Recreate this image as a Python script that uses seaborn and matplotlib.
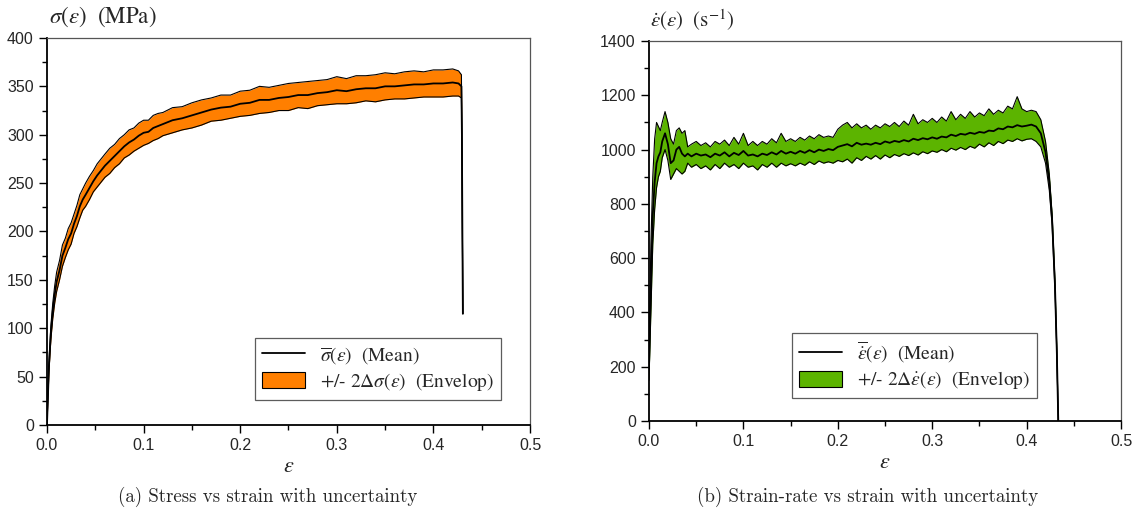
import matplotlib
matplotlib.use("Agg")
import matplotlib.pyplot as plt
import seaborn as sns
import pandas as pd
from matplotlib.lines import Line2D
from matplotlib.patches import Patch
from matplotlib.ticker import MultipleLocator

# -------------------------------------------------
# data
# -------------------------------------------------

# (a) stress vs strain
sig_eps = [0.000, 0.002, 0.004, 0.006, 0.008, 0.010, 0.013, 0.016, 0.019, 0.022,
           0.025, 0.028, 0.031, 0.034, 0.037, 0.040, 0.044, 0.048, 0.052, 0.056,
           0.060, 0.065, 0.070, 0.075, 0.080, 0.085, 0.090, 0.095, 0.100, 0.105,
           0.110, 0.115, 0.120, 0.130, 0.140, 0.150, 0.160, 0.170, 0.180, 0.190,
           0.200, 0.210, 0.220, 0.230, 0.240, 0.250, 0.260, 0.270, 0.280, 0.290,
           0.300, 0.310, 0.320, 0.330, 0.340, 0.350, 0.360, 0.370, 0.380, 0.390,
           0.400, 0.410, 0.420, 0.426, 0.429, 0.4295, 0.4300, 0.4305]
sig_mean = [0, 60, 95, 118, 135, 148, 160, 175, 183, 192,
            198, 208, 216, 226, 233, 238, 245, 252, 258, 263,
            268, 273, 278, 283, 288, 292, 295, 299, 302, 303,
            307, 309, 311, 315, 317, 320, 323, 326, 328, 329,
            332, 333, 336, 336, 338, 339, 341, 341, 343, 344,
            346, 345, 347, 348, 348, 350, 350, 351, 352, 352,
            353, 353, 354, 353, 350, 300, 200, 115]
sig_half = [0, 5, 7, 8, 9, 10, 10, 11, 10, 11,
            11, 10, 11, 12, 11, 12, 12, 11, 12, 12,
            12, 13, 12, 13, 12, 13, 12, 13, 13, 12,
            13, 13, 12, 13, 12, 13, 13, 12, 13, 12,
            13, 13, 14, 13, 13, 14, 13, 14, 13, 13,
            14, 13, 14, 13, 14, 14, 13, 14, 14, 13,
            14, 14, 14, 13, 12, 3, 1, 0]

# (b) strain rate vs strain
rate_eps = [0.000, 0.002, 0.004, 0.006, 0.008, 0.010, 0.012, 0.014, 0.017, 0.020,
            0.023, 0.026, 0.029, 0.032, 0.035, 0.038, 0.041, 0.045, 0.050, 0.055,
            0.060, 0.065, 0.070, 0.075, 0.080, 0.085, 0.090, 0.095, 0.100, 0.105,
            0.110, 0.115, 0.120, 0.125, 0.130, 0.135, 0.140, 0.145, 0.150, 0.155,
            0.160, 0.165, 0.170, 0.175, 0.180, 0.185, 0.190, 0.195, 0.200, 0.205,
            0.210, 0.215, 0.220, 0.225, 0.230, 0.235, 0.240, 0.245, 0.250, 0.255,
            0.260, 0.265, 0.270, 0.275, 0.280, 0.285, 0.290, 0.295, 0.300, 0.305,
            0.310, 0.315, 0.320, 0.325, 0.330, 0.335, 0.340, 0.345, 0.350, 0.355,
            0.360, 0.365, 0.370, 0.375, 0.380, 0.385, 0.390, 0.395, 0.400, 0.405,
            0.410, 0.415, 0.420, 0.424, 0.427, 0.430, 0.432, 0.4335]
rate_mean = [200, 500, 760, 880, 950, 975, 990, 1030, 1060, 1020,
             950, 960, 1000, 1010, 985, 975, 985, 975, 985, 978,
             982, 972, 985, 978, 990, 975, 988, 980, 995, 978,
             982, 975, 985, 980, 990, 982, 995, 985, 992, 985,
             995, 988, 998, 990, 1000, 995, 1002, 998, 1010, 1015,
             1020, 1012, 1025, 1018, 1022, 1018, 1025, 1020, 1030, 1025,
             1032, 1028, 1035, 1030, 1040, 1035, 1042, 1038, 1045, 1040,
             1048, 1045, 1055, 1050, 1058, 1055, 1062, 1058, 1065, 1062,
             1070, 1068, 1078, 1075, 1085, 1082, 1090, 1085, 1088, 1092,
             1085, 1060, 990, 880, 740, 500, 250, 0]
rate_upper = [250, 650, 900, 1040, 1100, 1085, 1070, 1100, 1140, 1100,
              1040, 1020, 1070, 1080, 1060, 1070, 1010, 1020, 1030, 1015,
              1025, 1010, 1030, 1020, 1035, 1015, 1045, 1020, 1060, 1015,
              1030, 1015, 1030, 1020, 1040, 1025, 1060, 1030, 1040, 1030,
              1045, 1035, 1050, 1040, 1055, 1045, 1050, 1045, 1075, 1090,
              1100, 1080, 1095, 1080, 1090, 1075, 1090, 1080, 1095, 1085,
              1100, 1085, 1105, 1090, 1130, 1095, 1110, 1100, 1115, 1100,
              1120, 1105, 1140, 1110, 1130, 1115, 1140, 1120, 1135, 1125,
              1150, 1130, 1145, 1135, 1160, 1150, 1195, 1150, 1140, 1145,
              1140, 1110, 1030, 910, 760, 515, 258, 0]
rate_lower = [150, 400, 650, 780, 860, 900, 920, 970, 1000, 960,
              890, 910, 930, 920, 910, 920, 950, 935, 945, 930,
              940, 925, 945, 930, 950, 935, 945, 930, 950, 935,
              940, 925, 945, 935, 950, 935, 950, 940, 948, 940,
              950, 942, 955, 945, 958, 950, 955, 950, 960, 955,
              965, 950, 970, 960, 975, 965, 978, 965, 980, 970,
              982, 975, 985, 978, 988, 980, 992, 985, 995, 990,
              1000, 992, 1005, 998, 1008, 1000, 1012, 1005, 1020, 1010,
              1025, 1015, 1030, 1022, 1035, 1030, 1040, 1032, 1038, 1040,
              1030, 1010, 950, 850, 720, 485, 242, 0]

sig_df = pd.DataFrame({"eps": sig_eps, "mean": sig_mean, "half": sig_half})
sig_df["upper"] = sig_df["mean"] + sig_df["half"]
sig_df["lower"] = sig_df["mean"] - sig_df["half"]

rate_df = pd.DataFrame({"eps": rate_eps, "mean": rate_mean,
                        "upper": rate_upper, "lower": rate_lower})

ORANGE = "#FF7F00"
GREEN = "#5CB400"

sns.set_theme(style="ticks")
plt.rcParams["font.family"] = ["Liberation Sans", "DejaVu Sans"]
plt.rcParams["mathtext.fontset"] = "stix"

fig = plt.figure(figsize=(11.43, 5.16), dpi=100)
ax1 = fig.add_axes([0.0411, 0.1764, 0.4226, 0.7500])
ax2 = fig.add_axes([0.5678, 0.1841, 0.4130, 0.7364])


def draw_panel(ax, df, color):
    ax.fill_between(df["eps"], df["lower"], df["upper"], color=color, lw=0)
    sns.lineplot(data=df, x="eps", y="upper", ax=ax, color="black", lw=0.8,
                 sort=False, estimator=None)
    sns.lineplot(data=df, x="eps", y="lower", ax=ax, color="black", lw=0.8,
                 sort=False, estimator=None)
    sns.lineplot(data=df, x="eps", y="mean", ax=ax, color="black", lw=1.3,
                 sort=False, estimator=None)
    ax.set_xlim(0, 0.5)
    ax.xaxis.set_major_locator(MultipleLocator(0.1))
    ax.xaxis.set_minor_locator(MultipleLocator(0.05))
    ax.xaxis.set_major_formatter(matplotlib.ticker.FormatStrFormatter("%.1f"))
    ax.tick_params(which="major", direction="out", length=6, width=1,
                   labelsize=11.5, color="black", top=False, right=False)
    ax.tick_params(which="minor", direction="out", length=3.5, width=1,
                   color="black", top=False, right=False)
    for side in ["left", "bottom"]:
        ax.spines[side].set_linewidth(1.3)
        ax.spines[side].set_color("black")
    for side in ["top", "right"]:
        ax.spines[side].set_linewidth(0.9)
        ax.spines[side].set_color("#555555")
    ax.set_xlabel(r"$\varepsilon$", fontsize=16, labelpad=2)
    ax.set_ylabel("")


# ---------- (a) stress ----------
draw_panel(ax1, sig_df, ORANGE)
ax1.set_ylim(0, 400)
ax1.yaxis.set_major_locator(MultipleLocator(50))
ax1.yaxis.set_minor_locator(MultipleLocator(25))
ax1.text(0.005, 1.022, r"$\sigma(\varepsilon)$  (MPa)", transform=ax1.transAxes,
         fontsize=16.5, family="STIXGeneral", ha="left", va="bottom")
h1 = [Line2D([], [], color="black", lw=1.3),
      Patch(facecolor=ORANGE, edgecolor="black", lw=0.8)]
l1 = [r"$\overline{\sigma}(\varepsilon)$  (Mean)",
      r"+/- $2\mathit{\Delta}\sigma(\varepsilon)$  (Envelop)"]
leg1 = ax1.legend(h1, l1, loc="lower right", bbox_to_anchor=(0.94, 0.065),
                  frameon=True, fancybox=False, edgecolor="#333333",
                  prop={"family": "STIXGeneral", "size": 14},
                  handlelength=2.2, handleheight=0.9, borderpad=0.35,
                  labelspacing=0.25, borderaxespad=0)
leg1.get_frame().set_linewidth(0.9)

# ---------- (b) strain rate ----------
draw_panel(ax2, rate_df, GREEN)
ax2.set_ylim(0, 1400)
ax2.yaxis.set_major_locator(MultipleLocator(200))
ax2.yaxis.set_minor_locator(MultipleLocator(100))
ax2.text(0.003, 1.022, r"$\dot{\varepsilon}(\varepsilon)$  (s$^{\mathregular{-1}}$)",
         transform=ax2.transAxes, fontsize=15, family="STIXGeneral",
         ha="left", va="bottom")
h2 = [Line2D([], [], color="black", lw=1.3),
      Patch(facecolor=GREEN, edgecolor="black", lw=0.8)]
l2 = [r"$\overline{\dot{\varepsilon}}(\varepsilon)$  (Mean)",
      r"+/- $2\mathit{\Delta}\dot{\varepsilon}(\varepsilon)$  (Envelop)"]
leg2 = ax2.legend(h2, l2, loc="lower right", bbox_to_anchor=(0.822, 0.06),
                  frameon=True, fancybox=False, edgecolor="#333333",
                  prop={"family": "STIXGeneral", "size": 14},
                  handlelength=2.2, handleheight=0.9, borderpad=0.35,
                  labelspacing=0.25, borderaxespad=0)
leg2.get_frame().set_linewidth(0.9)

# captions
fig.text(0.2345, 0.037, "(a) Stress vs strain with uncertainty",
         family="cmr10", fontsize=13.6, ha="center", va="center")
fig.text(0.7595, 0.037, "(b) Strain-rate vs strain with uncertainty",
         family="cmr10", fontsize=13.6, ha="center", va="center")

fig.savefig("out.png", dpi=100)
